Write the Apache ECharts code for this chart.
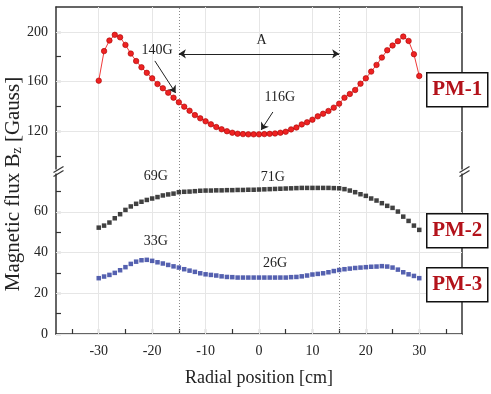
<!DOCTYPE html>
<html>
<head>
<meta charset="utf-8">
<script src="https://cdn.jsdelivr.net/npm/echarts@6/dist/echarts.min.js"></script>
<style>
html, body { margin: 0; padding: 0; background: #fff; }
#main { width: 491px; height: 394px; }
</style>
</head>
<body>
<div id="main"></div>
<script>
// radial positions [cm]
var positions = [-30, -29, -28, -27, -26, -25, -24, -23, -22, -21, -20, -19, -18, -17, -16, -15,
    -14, -13, -12, -11, -10, -9, -8, -7, -6, -5, -4, -3, -2, -1, 0, 1, 2, 3, 4, 5, 6, 7, 8, 9, 10,
    11, 12, 13, 14, 15, 16, 17, 18, 19, 20, 21, 22, 23, 24, 25, 26, 27, 28, 29, 30];

var pm1 = [160.7, 184.5, 193, 197.6, 195.6, 189.5, 182.5, 176.5, 171.5, 167, 162.6, 158, 154.6, 151, 147, 143.3,
    139.8, 136.5, 133, 130.4, 128, 125.6, 123.4, 121.6, 120, 118.8, 118, 117.7, 117.5, 117.5, 117.5,
    117.7, 117.9, 118.2, 118.8, 119.6, 121.5, 123, 125.5, 127.2, 129.3, 132, 134.1, 136.3, 139, 142.2,
    147, 150, 153.2, 158.3, 162.6, 168, 173.4, 179.3, 185.2, 189, 192.5, 196.2, 192.7, 182, 164.5];

var pm2 = [52.2, 53.2, 54.7, 56.8, 58.8, 60.9, 62.6, 63.9, 64.9, 65.8, 66.5, 67.2, 68, 68.5, 68.9, 69.6,
    69.8, 69.9, 70.1, 70.3, 70.4, 70.4, 70.5, 70.5, 70.6, 70.6, 70.7, 70.7, 70.8, 70.8, 70.9,
    71, 71.1, 71.2, 71.3, 71.4, 71.5, 71.6, 71.7, 71.7, 71.7, 71.7, 71.7, 71.7, 71.6, 71.5,
    71.1, 70.4, 69.6, 68.6, 67.8, 66.5, 65.5, 64.2, 62.9, 61.9, 60.1, 57.6, 55.5, 53.2, 51.1];

var pm3 = [27.4, 28.2, 29, 30, 31.3, 32.8, 34.4, 35.5, 36.2, 36.4, 35.9, 35.2, 34.6, 33.9, 33.2, 32.6,
    31.8, 31.1, 30.5, 29.8, 29.3, 29, 28.7, 28.3, 28, 27.9, 27.7, 27.7, 27.7, 27.7, 27.7,
    27.7, 27.7, 27.7, 27.7, 27.7, 27.9, 28, 28.3, 28.7, 29.2, 29.5, 29.8, 30.3, 30.9, 31.4,
    31.8, 32.1, 32.4, 32.6, 32.8, 33, 33.1, 33.3, 33.1, 32.6, 31.6, 30.3, 29.3, 28.5, 27.4];

var xTicks = [-35, -30, -25, -20, -15, -10, -5, 0, 5, 10, 15, 20, 25, 30, 35];
var xLabels = [-30, -20, -10, 0, 10, 20, 30];
var upperTicks = [100, 120, 140, 160, 180, 200];
var upperLabels = [120, 160, 200];
var lowerTicks = [0, 10, 20, 30, 40, 50, 60, 70];
var lowerLabels = [0, 20, 40, 60];
var regionEdges = [-15, 15];

// annotations: [x, y, text]
var upperNotes = [[-19.1, 185.5, '140G'], [0.5, 193.5, 'A'], [3.9, 147.6, '116G']];
var lowerNotes = [[-19.3, 77.3, '69G'], [2.6, 77.1, '71G'], [-19.3, 45.7, '33G'], [3, 34.9, '26G']];
// pointer arrows [x1, y1, x2, y2]
var upperArrows = [[-19.5, 176.6, -15.6, 150.8], [2.6, 135.5, 0.4, 121]];

var serif = 'Liberation Serif';
var frame = { color: '#333', width: 1.5 };
var gridLine = { color: '#e6e6e6', width: 1, type: 'solid' };

function pairs(ys) {
    return positions.map(function (x, i) { return [x, ys[i]]; });
}

function gridMarks(hValues) {
    var d = [];
    xLabels.forEach(function (v) { d.push({ xAxis: v, lineStyle: gridLine }); });
    hValues.forEach(function (v) { d.push({ yAxis: v, lineStyle: gridLine }); });
    regionEdges.forEach(function (v) {
        d.push({ xAxis: v, lineStyle: { color: '#888', width: 1, type: [1, 2] } });
    });
    return d;
}

var upperMarks = gridMarks(upperLabels);
upperMarks.push([
    { coord: [regionEdges[0], 182.3], symbol: 'arrow' },
    { coord: [regionEdges[1], 182.3], symbol: 'arrow', lineStyle: { color: '#222', width: 1, type: 'solid' } }
]);
upperArrows.forEach(function (a) {
    upperMarks.push([
        { coord: [a[0], a[1]], symbol: 'none' },
        { coord: [a[2], a[3]], symbol: 'arrow', lineStyle: { color: '#222', width: 1, type: 'solid' } }
    ]);
});

function noteData(notes) {
    return notes.map(function (n) { return { coord: [n[0], n[1]], name: n[2] }; });
}

var noteStyle = {
    symbol: 'circle',
    symbolSize: 0,
    silent: true,
    label: { show: true, position: 'inside', formatter: '{b}', fontFamily: serif, fontSize: 14, color: '#222' }
};

var myChart = echarts.init(document.getElementById('main'));

function pmBox(label, top) {
    return {
        type: 'group', left: 426, top: top, z: 100,
        children: [
            { type: 'rect', shape: { width: 61, height: 34 }, style: { fill: '#fff', stroke: '#111', lineWidth: 1.5 }, z: 100 },
            { type: 'text', x: 30.5, y: 17, z: 101,
              style: { text: label, align: 'center', verticalAlign: 'middle', font: 'bold 21px "Liberation Serif"', fill: '#b3121a' } }
        ]
    };
}

function breakMark(x) {
    return {
        type: 'group', left: x - 5, top: 164, z: 100,
        children: [
            { type: 'rect', shape: { x: 1, y: 5, width: 9, height: 4 }, style: { fill: '#fff' }, z: 100 },
            { type: 'line', shape: { x1: 0, y1: 8, x2: 10, y2: 2 }, style: { stroke: '#333', lineWidth: 1.2 }, z: 101 },
            { type: 'line', shape: { x1: 0, y1: 12, x2: 10, y2: 6 }, style: { stroke: '#333', lineWidth: 1.2 }, z: 101 }
        ]
    };
}

var tickLabel = { fontFamily: serif, fontSize: 14, color: '#222' };

var option = {
    animation: false,
    backgroundColor: '#fff',
    grid: [
        { left: 56, right: 29, top: 7, height: 164, outerBoundsMode: 'none' },
        { left: 56, right: 29, top: 171, height: 163, outerBoundsMode: 'none' }
    ],
    xAxis: [
        {
            gridIndex: 0, type: 'value', min: -38, max: 38, position: 'top',
            axisLine: { show: true, onZero: false, lineStyle: frame },
            axisTick: { show: false }, axisLabel: { show: false }, splitLine: { show: false }
        },
        {
            gridIndex: 1, type: 'value', min: -38, max: 38, position: 'bottom',
            axisLine: { show: true, onZero: false, lineStyle: frame },
            axisTick: { show: true, inside: true, length: 5, customValues: xTicks, lineStyle: { color: '#333', width: 1.2 } },
            axisLabel: Object.assign({ customValues: xLabels, margin: 10 }, tickLabel),
            splitLine: { show: false },
            name: 'Radial position [cm]', nameLocation: 'middle', nameGap: 35,
            nameTextStyle: { fontFamily: serif, fontSize: 18, color: '#222' }
        }
    ],
    yAxis: [
        {
            gridIndex: 0, type: 'value', min: 88, max: 220,
            axisLine: { show: true, onZero: false, lineStyle: frame },
            axisTick: { show: true, inside: true, length: 5, customValues: upperTicks, lineStyle: { color: '#333', width: 1.2 } },
            axisLabel: Object.assign({ customValues: upperLabels, margin: 8 }, tickLabel),
            splitLine: { show: false }
        },
        {
            gridIndex: 0, type: 'value', min: 88, max: 220, position: 'right',
            axisLine: { show: true, onZero: false, lineStyle: frame },
            axisTick: { show: false }, axisLabel: { show: false }, splitLine: { show: false }
        },
        {
            gridIndex: 1, type: 'value', min: 0, max: 80,
            axisLine: { show: true, onZero: false, lineStyle: frame },
            axisTick: { show: true, inside: true, length: 5, customValues: lowerTicks, lineStyle: { color: '#333', width: 1.2 } },
            axisLabel: Object.assign({ customValues: lowerLabels, margin: 8 }, tickLabel),
            splitLine: { show: false }
        },
        {
            gridIndex: 1, type: 'value', min: 0, max: 80, position: 'right',
            axisLine: { show: true, onZero: false, lineStyle: frame },
            axisTick: { show: false }, axisLabel: { show: false }, splitLine: { show: false }
        }
    ],
    series: [
        {
            name: 'PM-1', type: 'line', xAxisIndex: 0, yAxisIndex: 0, z: 3,
            data: pairs(pm1),
            symbol: 'circle', symbolSize: 5.5,
            itemStyle: { color: '#ee2222', borderColor: '#a80000', borderWidth: 0.6 },
            lineStyle: { color: '#f03a3a', width: 1 },
            markLine: { silent: true, z: 1, symbol: ['none', 'none'], symbolSize: 7, label: { show: false }, data: upperMarks },
            markPoint: Object.assign({ data: noteData(upperNotes) }, noteStyle)
        },
        {
            name: 'PM-2', type: 'scatter', xAxisIndex: 1, yAxisIndex: 2, z: 3,
            data: pairs(pm2),
            symbol: 'rect', symbolSize: 4.5,
            itemStyle: { color: '#111' },
            markLine: { silent: true, z: 1, symbol: ['none', 'none'], label: { show: false }, data: gridMarks(lowerLabels) },
            markPoint: Object.assign({ data: noteData(lowerNotes) }, noteStyle)
        },
        {
            name: 'PM-3', type: 'scatter', xAxisIndex: 1, yAxisIndex: 2, z: 3,
            data: pairs(pm3),
            symbol: 'rect', symbolSize: 4.5,
            itemStyle: { color: '#2b3a9c' }
        }
    ],
    graphic: [
        {
            type: 'text', x: 13, y: 184, rotation: Math.PI / 2, z: 100,
            style: {
                text: 'Magnetic flux B{sub|z} [Gauss]',
                align: 'center', verticalAlign: 'middle',
                font: '21px "Liberation Serif"', fill: '#222',
                rich: { sub: { fontFamily: serif, fontSize: 14, fill: '#222', padding: [8, 0, 0, 0] } }
            }
        },
        breakMark(56),
        breakMark(462),
        pmBox('PM-1', 72),
        pmBox('PM-2', 213),
        pmBox('PM-3', 267)
    ]
};

myChart.setOption(option);
</script>
</body>
</html>
